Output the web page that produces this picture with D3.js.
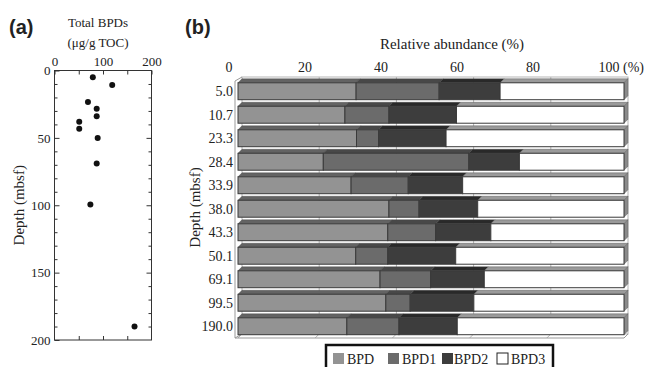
<!DOCTYPE html>
<html>
<head>
<meta charset="utf-8">
<script src="https://cdn.jsdelivr.net/npm/d3@7"></script>
<style>
    body { margin: 0; background: #fff; }
    svg { display: block; }
    text { font-family: 'Liberation Serif', 'Times New Roman', serif; fill: #222; }
    .panel-tag { font-family: 'Liberation Sans', Arial, sans-serif; font-weight: bold; font-size: 20px; fill: #222; }
</style>
</head>
<body>
<svg id="chart"></svg>
<script>
'use strict';

// panel (a): total BPDs vs depth
const depthValues = [5.0, 10.7, 23.3, 28.4, 33.9, 38.0, 43.3, 50.1, 69.1, 99.5, 190.0];
const totalBPDs = [79, 119, 69, 87, 87, 51, 51, 89, 87, 74, 165];

// panel (b): relative abundance (%) per depth
const depthLabels = ['5.0', '10.7', '23.3', '28.4', '33.9', '38.0', '43.3', '50.1', '69.1', '99.5', '190.0'];
const seriesNames = ['BPD', 'BPD1', 'BPD2', 'BPD3'];
const bpd  = [30.6, 27.7, 30.7, 22.1, 29.3, 39.1, 38.8, 30.5, 36.8, 38.3, 28.2];
const bpd1 = [21.5, 11.4, 5.7, 37.7, 14.8, 7.8, 12.4, 8.3, 13.1, 6.3, 13.5];
const bpd2 = [15.8, 17.5, 17.5, 13.1, 14.1, 15.2, 14.3, 17.6, 13.9, 16.5, 15.1];
const bpd3 = [32.1, 43.4, 46.1, 27.1, 41.8, 37.9, 34.5, 43.6, 36.2, 38.9, 43.2];
const pctTicks = [0, 20, 40, 60, 80, 100];

const colors = {BPD: '#939393', BPD1: '#6b6b6b', BPD2: '#3d3d3d', BPD3: '#ffffff'};

const width = 646, height = 367;
const svg = d3.select('#chart').attr('width', width).attr('height', height);

drawPanelA();
drawPanelB();

function drawPanelA() {
    const x = d3.scaleLinear().domain([0, 200]).range([54.5, 151.5]);
    const y = d3.scaleLinear().domain([0, 200]).range([70.5, 340]);
    const g = svg.append('g');

    g.append('text').attr('class', 'panel-tag').attr('x', 9).attr('y', 34).text('(a)');
    g.append('text').attr('x', 98).attr('y', 27).attr('text-anchor', 'middle')
        .attr('font-size', 13).text('Total BPDs');
    g.append('text').attr('x', 98).attr('y', 47).attr('text-anchor', 'middle')
        .attr('font-size', 13).text('(μg/g TOC)');

    g.append('rect')
        .attr('x', x(0)).attr('y', y(0))
        .attr('width', x(200) - x(0)).attr('height', y(200) - y(0))
        .attr('fill', 'none').attr('stroke', '#333').attr('stroke-width', 1);

    // top axis labels, ticks inward
    const top = g.append('g').attr('transform', `translate(0,${y(0)})`)
        .call(d3.axisTop(x).tickValues([0, 50, 100, 150, 200]).tickSizeInner(-4).tickSizeOuter(0)
            .tickFormat(d => d % 100 === 0 ? d : ''));
    const bottom = g.append('g').attr('transform', `translate(0,${y(200)})`)
        .call(d3.axisBottom(x).tickValues([50, 100, 150]).tickSizeInner(-4).tickSizeOuter(0).tickFormat(''));
    const left = g.append('g').attr('transform', `translate(${x(0)},0)`)
        .call(d3.axisLeft(y).tickValues(d3.range(0, 201, 10)).tickSizeOuter(0)
            .tickFormat(d => d % 50 === 0 ? d : ''));
    left.selectAll('.tick line').attr('x2', d => d % 50 === 0 ? 5 : 3);
    const right = g.append('g').attr('transform', `translate(${x(200)},0)`)
        .call(d3.axisRight(y).tickValues(d3.range(10, 200, 10)).tickSizeOuter(0).tickFormat(''));
    right.selectAll('.tick line').attr('x2', d => d % 50 === 0 ? -5 : -3);

    [top, bottom, left, right].forEach(ax => {
        ax.select('.domain').remove();
        ax.selectAll('.tick line').attr('stroke', '#333');
        ax.selectAll('.tick text').attr('font-family', "'Liberation Serif', serif")
            .attr('font-size', 13).attr('fill', '#222');
    });
    left.selectAll('.tick text').attr('x', -4);
    top.selectAll('.tick text').attr('y', -5);

    g.append('text')
        .attr('transform', `translate(24,${y(100)}) rotate(-90)`)
        .attr('text-anchor', 'middle').attr('font-size', 15).text('Depth (mbsf)');

    g.selectAll('circle.pt')
        .data(depthValues.map((d, i) => ({depth: d, total: totalBPDs[i]})))
        .join('circle')
        .attr('class', 'pt')
        .attr('cx', d => x(d.total))
        .attr('cy', d => y(d.depth))
        .attr('r', 3)
        .attr('fill', '#111');
}

function drawPanelB() {
    const x = d3.scaleLinear().domain([0, 100]).range([238, 624]);
    const xLab = d3.scaleLinear().domain([0, 100]).range([229, 609]);
    const y = d3.scaleBand().domain(depthLabels).range([79.5, 338]).paddingInner(0.28).paddingOuter(0.14);
    const dx = 4, dy = 4;
    const wallTop = 77, floorY = 338;
    const g = svg.append('g');

    g.append('text').attr('class', 'panel-tag').attr('x', 185).attr('y', 34).text('(b)');
    g.append('text').attr('x', 452).attr('y', 49).attr('text-anchor', 'middle')
        .attr('font-size', 15).text('Relative abundance (%)');

    g.selectAll('text.xtick')
        .data(pctTicks)
        .join('text')
        .attr('class', 'xtick')
        .attr('x', d => xLab(d))
        .attr('y', 72)
        .attr('text-anchor', 'middle')
        .attr('font-size', 14)
        .text(d => d);
    g.append('text').attr('x', xLab(100) + 14).attr('y', 72).attr('font-size', 14).text('(%)');

    // back wall, floor and gridlines
    const wall = g.append('g').attr('fill', 'none').attr('stroke', '#b5b5b5').attr('stroke-width', 1);
    wall.append('rect')
        .attr('x', x(0) + dx).attr('y', wallTop)
        .attr('width', x(100) - x(0)).attr('height', floorY - dy - wallTop);
    wall.selectAll('line.grid')
        .data(pctTicks.slice(1, -1))
        .join('line')
        .attr('class', 'grid')
        .attr('x1', d => x(d) + dx).attr('x2', d => x(d) + dx)
        .attr('y1', wallTop).attr('y2', floorY - dy);
    wall.selectAll('line.floor')
        .data(pctTicks)
        .join('line')
        .attr('class', 'floor')
        .attr('x1', d => x(d)).attr('y1', floorY)
        .attr('x2', d => x(d) + dx).attr('y2', floorY - dy);
    wall.append('path')
        .attr('d', `M${x(0) - 3},${wallTop + dy}V${floorY}H${x(100)}L${x(100) + dx},${floorY - dy}
            M${x(0) - 3},${wallTop + dy}L${x(0) + dx},${wallTop}M${x(0) - 3},${floorY}L${x(0) + dx},${floorY - dy}`)
        .attr('stroke', '#999');

    const table = depthLabels.map((d, i) => ({depth: d, BPD: bpd[i], BPD1: bpd1[i], BPD2: bpd2[i], BPD3: bpd3[i]}));
    const stack = d3.stack().keys(seriesNames)(table);

    const segs = stack.flatMap(layer => layer.map(s => ({
        key: layer.key, depth: s.data.depth, x0: s[0], x1: s[1], last: layer.key === 'BPD3'
    })));

    const bars = g.append('g');
    const bh = y.bandwidth();
    // top faces
    bars.selectAll('path.top')
        .data(segs)
        .join('path')
        .attr('class', 'top')
        .attr('d', d => {
            const a = x(d.x0), b = x(d.x1), t = y(d.depth);
            return `M${a},${t}L${b},${t}L${b + dx},${t - dy}L${a + dx},${t - dy}Z`;
        })
        .attr('fill', d => d.key === 'BPD3' ? '#9a9a9a' : d3.color(colors[d.key]).darker(1.1))
        .attr('stroke', '#444').attr('stroke-width', 0.4);
    // right side faces
    bars.selectAll('path.side')
        .data(segs.filter(d => d.last))
        .join('path')
        .attr('class', 'side')
        .attr('d', d => {
            const b = x(d.x1), t = y(d.depth);
            return `M${b},${t}L${b + dx},${t - dy}L${b + dx},${t + bh - dy}L${b},${t + bh}Z`;
        })
        .attr('fill', '#8a8a8a').attr('stroke', '#555').attr('stroke-width', 0.4);
    // front faces
    bars.selectAll('rect.front')
        .data(segs)
        .join('rect')
        .attr('class', 'front')
        .attr('x', d => x(d.x0))
        .attr('y', d => y(d.depth))
        .attr('width', d => x(d.x1) - x(d.x0))
        .attr('height', bh)
        .attr('fill', d => colors[d.key])
        .attr('stroke', '#3a3a3a')
        .attr('stroke-width', 1);

    g.selectAll('text.ylab')
        .data(depthLabels)
        .join('text')
        .attr('class', 'ylab')
        .attr('x', 233)
        .attr('y', d => y(d) + bh / 2)
        .attr('dy', '.35em')
        .attr('text-anchor', 'end')
        .attr('font-size', 14)
        .text(d => d);

    g.append('text')
        .attr('transform', `translate(200,${(wallTop + floorY) / 2}) rotate(-90)`)
        .attr('text-anchor', 'middle').attr('font-size', 15).text('Depth (mbsf)');

    // legend
    const legend = g.append('g');
    legend.append('rect')
        .attr('x', 326).attr('y', 345).attr('width', 227).attr('height', 30)
        .attr('fill', '#fff').attr('stroke', '#111').attr('stroke-width', 2.5);
    const legX = d3.scaleOrdinal().domain(seriesNames).range([333, 388, 442, 497]);
    const item = legend.selectAll('g.item')
        .data(seriesNames)
        .join('g')
        .attr('class', 'item')
        .attr('transform', d => `translate(${legX(d)},353)`);
    item.append('rect')
        .attr('width', 11).attr('height', 11)
        .attr('fill', d => colors[d])
        .attr('stroke', d => d === 'BPD3' ? '#222' : 'none');
    item.append('text')
        .attr('x', d => d === 'BPD2' ? 12 : 14)
        .attr('y', 10.5)
        .attr('font-size', 14)
        .text(d => d);
}
</script>
</body>
</html>
